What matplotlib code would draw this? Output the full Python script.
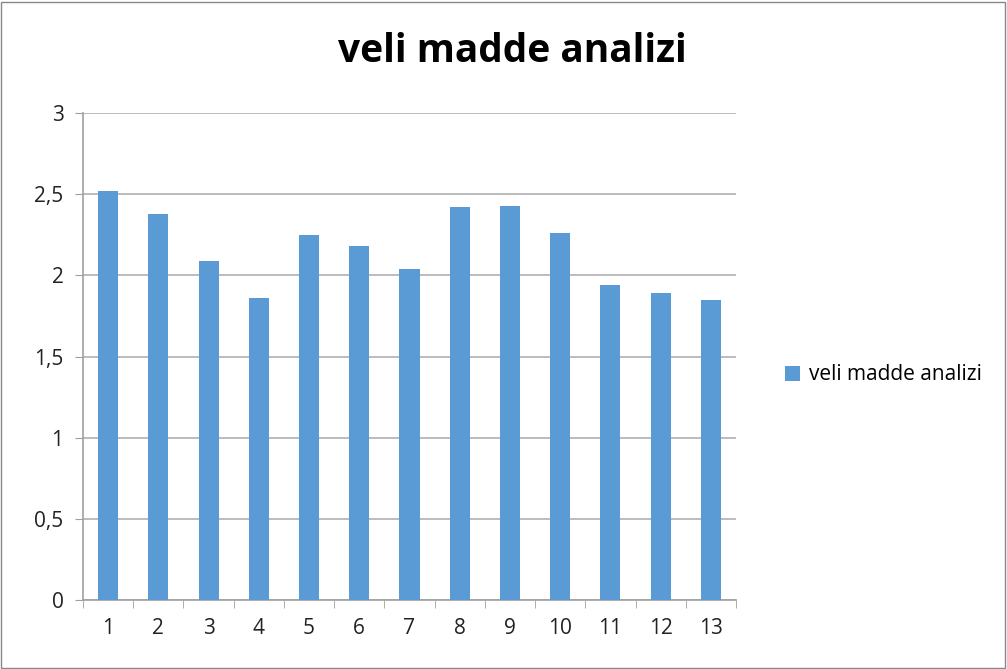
import numpy as np
import matplotlib.pyplot as plt
from matplotlib.patches import Rectangle

# values
items = ['1', '2', '3', '4', '5', '6', '7', '8', '9', '10', '11', '12', '13']
scores = [2.52, 2.38, 2.09, 1.86, 2.25, 2.18, 2.04, 2.42, 2.43, 2.26, 1.94, 1.89, 1.85]
yticks = [0, 0.5, 1, 1.5, 2, 2.5, 3]
ylabels = ['0', '0,5', '1', '1,5', '2', '2,5', '3']

plt.rcParams['font.family'] = ['Open Sans', 'DejaVu Sans']

fig = plt.figure(figsize=(10.07, 6.69), dpi=100)
ax = fig.add_axes([83/1007, 1-600/669, (736-83)/1007, (600-113)/669])

x = np.arange(len(items))
ax.bar(x, scores, width=0.4, color='#5B9BD5', label='veli madde analizi', zorder=3)

ax.set_xlim(-0.5, len(items) - 0.5)
ax.set_ylim(0, 3)
ax.set_yticks(yticks)
ax.set_yticklabels(ylabels, fontsize=15, color='#222222')
ax.set_xticks(x)
ax.set_xticklabels(items, fontsize=15, color='#222222')
ax.set_xticks(np.arange(-0.5, len(items)), minor=True)
ax.tick_params(axis='x', which='major', length=0, pad=13)
ax.tick_params(axis='x', which='minor', length=6, color='#a0a0a0', direction='out')
ax.tick_params(axis='y', length=6, color='#a0a0a0', pad=8)
ax.grid(axis='y', color='#b0b0b0', linewidth=1.2, zorder=0)

for s in ['top', 'right']:
    ax.spines[s].set_visible(False)
for s in ['left', 'bottom']:
    ax.spines[s].set_color('#a0a0a0')
    ax.spines[s].set_linewidth(1.2)

fig.text(512/1007, 1-52/669, 'veli madde analizi', fontsize=28, fontweight='bold',
         ha='center', va='center')

fig.legend(loc='center left', bbox_to_anchor=(766/1007, 1-375/669), frameon=False,
           fontsize=15, handlelength=0.75, handleheight=0.75, handletextpad=0.4)

fig.patches.append(Rectangle((1/1007, 1/669), 1004/1007, 666/669, transform=fig.transFigure,
                             fill=False, edgecolor='#888888', linewidth=1))

fig.savefig('out.png', dpi=100)
